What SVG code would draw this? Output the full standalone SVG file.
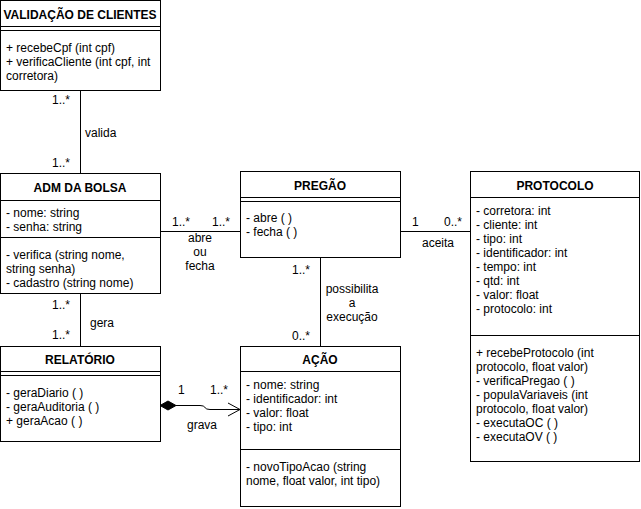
<svg xmlns="http://www.w3.org/2000/svg" width="641" height="509" viewBox="0 0 641 509">
<defs>
<style>
.box{fill:#fff;stroke:#000;stroke-width:1}
.ln{stroke:#000;stroke-width:1;fill:none}
text{font-family:"Liberation Sans",Arial,sans-serif;font-size:12px;fill:#000}
.t{font-weight:bold;text-anchor:middle}
.c{text-anchor:middle}
.r{text-anchor:end}
</style>
</defs>
<rect width="641" height="509" fill="#fff"/>
<g id="connectors">
<line class="ln" x1="80.5" y1="90.5" x2="80.5" y2="173.5"/>
<text class="r" x="70" y="104">1..*</text>
<text class="r" x="70" y="167">1..*</text>
<text x="85" y="137">valida</text>
<line class="ln" x1="160.5" y1="231.5" x2="240.5" y2="231.5"/>
<text class="r" x="190" y="226">1..*</text>
<text class="r" x="230" y="226">1..*</text>
<text class="c" x="200" y="242">abre</text>
<text class="c" x="200" y="256">ou</text>
<text class="c" x="200" y="270">fecha</text>
<line class="ln" x1="400.5" y1="231.5" x2="470.5" y2="231.5"/>
<text x="412" y="226">1</text>
<text class="r" x="462" y="226">0..*</text>
<text class="c" x="438" y="247">aceita</text>
<line class="ln" x1="320.5" y1="257.5" x2="320.5" y2="346.5"/>
<text class="r" x="310" y="274">1..*</text>
<text class="r" x="310" y="340">0..*</text>
<text class="c" x="352" y="293">possibilita</text>
<text class="c" x="352" y="307">a</text>
<text class="c" x="352" y="321">execução</text>
<line class="ln" x1="80.5" y1="293.5" x2="80.5" y2="346.5"/>
<text class="r" x="70" y="309">1..*</text>
<text class="r" x="70" y="339">1..*</text>
<text x="90" y="327">gera</text>
<path class="ln" d="M176,405.5 L200,405.5 Q204,405.5 205,407.5 Q206,409.5 210,409.5 L240,409.5"/>
<polygon points="160,405.5 168,401 176,405.5 168,410" fill="#000" stroke="#000"/>
<polyline class="ln" points="228,403 240,409.5 228,416"/>
<text x="178" y="394">1</text>
<text class="r" x="228" y="394">1..*</text>
<text class="c" x="202" y="429">grava</text>
</g>
<g id="validacao">
<rect class="box" x="0.5" y="0.5" width="160" height="90"/>
<line class="ln" x1="0.5" y1="26.5" x2="160.5" y2="26.5"/>
<line class="ln" x1="0.5" y1="30.5" x2="160.5" y2="30.5"/>
<text class="t" x="80" y="19">VALIDAÇÃO DE CLIENTES</text>
<text x="6" y="52">+ recebeCpf (int cpf)</text>
<text x="6" y="66">+ verificaCliente (int cpf, int</text>
<text x="6" y="80">corretora)</text>
</g>
<g id="adm">
<rect class="box" x="0.5" y="173.5" width="160" height="120"/>
<line class="ln" x1="0.5" y1="200.5" x2="160.5" y2="200.5"/>
<line class="ln" x1="0.5" y1="237.5" x2="160.5" y2="237.5"/>
<text class="t" x="80" y="192">ADM DA BOLSA</text>
<text x="6" y="217">- nome: string</text>
<text x="6" y="231">- senha: string</text>
<text x="6" y="259">- verifica (string nome,</text>
<text x="6" y="273">string senha)</text>
<text x="6" y="287">- cadastro (string nome)</text>
</g>
<g id="pregao">
<rect class="box" x="240.5" y="171.5" width="160" height="86"/>
<line class="ln" x1="240.5" y1="197.5" x2="400.5" y2="197.5"/>
<line class="ln" x1="240.5" y1="201.5" x2="400.5" y2="201.5"/>
<text class="t" x="320" y="190">PREGÃO</text>
<text x="246" y="222">- abre ( )</text>
<text x="246" y="236">- fecha ( )</text>
</g>
<g id="protocolo">
<rect class="box" x="470.5" y="171.5" width="169" height="290"/>
<line class="ln" x1="470.5" y1="197.5" x2="639.5" y2="197.5"/>
<line class="ln" x1="470.5" y1="335.5" x2="639.5" y2="335.5"/>
<text class="t" x="555" y="190">PROTOCOLO</text>
<text x="476" y="215">- corretora: int</text>
<text x="476" y="229">- cliente: int</text>
<text x="476" y="243">- tipo: int</text>
<text x="476" y="257">- identificador: int</text>
<text x="476" y="271">- tempo: int</text>
<text x="476" y="285">- qtd: int</text>
<text x="476" y="299">- valor: float</text>
<text x="476" y="313">- protocolo: int</text>
<text x="476" y="357">+ recebeProtocolo (int</text>
<text x="476" y="371">protocolo, float valor)</text>
<text x="476" y="385">- verificaPregao ( )</text>
<text x="476" y="399">- populaVariaveis (int</text>
<text x="476" y="413">protocolo, float valor)</text>
<text x="476" y="427">- executaOC ( )</text>
<text x="476" y="441">- executaOV ( )</text>
</g>
<g id="relatorio">
<rect class="box" x="0.5" y="346.5" width="160" height="95"/>
<line class="ln" x1="0.5" y1="371.5" x2="160.5" y2="371.5"/>
<line class="ln" x1="0.5" y1="375.5" x2="160.5" y2="375.5"/>
<text class="t" x="80" y="364">RELATÓRIO</text>
<text x="6" y="397">- geraDiario ( )</text>
<text x="6" y="411">- geraAuditoria ( )</text>
<text x="6" y="425">+ geraAcao ( )</text>
</g>
<g id="acao">
<rect class="box" x="240.5" y="346.5" width="160" height="160"/>
<line class="ln" x1="240.5" y1="371.5" x2="400.5" y2="371.5"/>
<line class="ln" x1="240.5" y1="449.5" x2="400.5" y2="449.5"/>
<text class="t" x="320" y="364">AÇÃO</text>
<text x="246" y="389">- nome: string</text>
<text x="246" y="403">- identificador: int</text>
<text x="246" y="417">- valor: float</text>
<text x="246" y="431">- tipo: int</text>
<text x="246" y="471">- novoTipoAcao (string</text>
<text x="246" y="485">nome, float valor, int tipo)</text>
</g>
</svg>
